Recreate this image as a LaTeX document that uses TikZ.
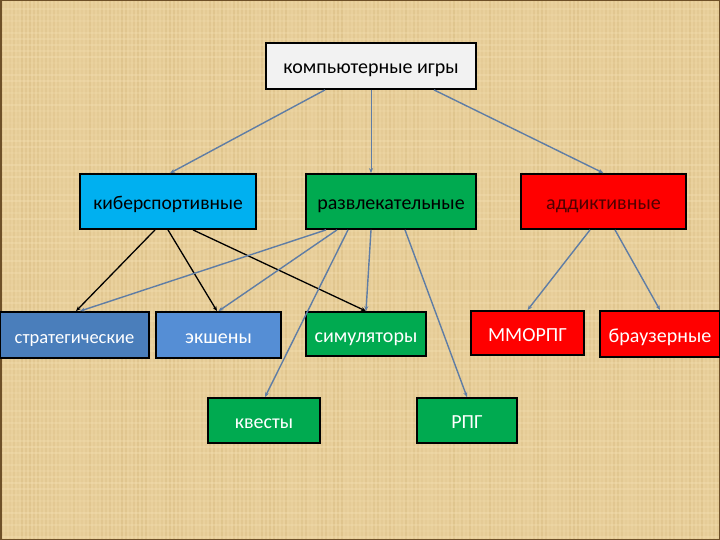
\documentclass[tikz,border=0pt]{standalone}
\usepackage{fontspec}
\setmainfont{Carlito}
\usetikzlibrary{arrows.meta}
\definecolor{parch}{RGB}{233,208,156}
\definecolor{parchdark}{RGB}{210,180,120}
\definecolor{parchlight}{RGB}{245,225,180}
\definecolor{frame}{RGB}{110,80,40}
\definecolor{linkblue}{RGB}{95,125,165}
\definecolor{cyanbox}{RGB}{0,176,240}
\definecolor{greenbox}{RGB}{0,170,80}
\definecolor{redbox}{RGB}{255,0,0}
\definecolor{stratbox}{RGB}{74,126,187}
\definecolor{actbox}{RGB}{85,142,213}
\definecolor{darkred}{RGB}{80,0,0}
\tikzset{font=\fontsize{20}{22}\selectfont}
\tikzset{box/.style={draw=black, line width=1.8pt, inner sep=0pt, anchor=center,
    text height=17pt, text depth=1pt}}
\tikzset{link/.style={draw=linkblue, line width=1.4pt, -{Stealth[length=5pt,width=4pt]}}}
\tikzset{blink/.style={draw=black, line width=1.3pt, -{Stealth[length=5pt,width=4pt]}}}

\begin{document}
\begin{tikzpicture}[x=1pt,y=-1pt]
  \useasboundingbox (0,0) rectangle (720,540);
  \fill[parch] (0,0) rectangle (720,540);
  % parchment texture
  \pgfmathsetseed{7}
  \foreach \i in {2,6,...,718}{
    \pgfmathsetmacro{\op}{0.1+0.3*rnd}
    \draw[parchdark, line width=1.2pt, opacity=\op] (\i,0) -- (\i,540);
  }
  \foreach \j in {3,9,...,537}{
    \pgfmathsetmacro{\op}{0.1+0.3*rnd}
    \draw[parchlight, line width=2pt, opacity=\op] (0,\j) -- (720,\j);
  }
  \draw[frame, line width=1.5pt] (0.75,0.75) rectangle (719.25,539.25);

  % top level
  \node[box, fill=white!95!black, minimum width=210pt, minimum height=46pt] (games) at (371,66) {компьютерные игры};

  % second level
  \node[box, font=\fontsize{19.5}{22}\selectfont, fill=cyanbox, minimum width=176pt, minimum height=55pt] (cyber) at (168,201.5) {киберспортивные};
  \node[box, fill=greenbox, minimum width=170pt, minimum height=55pt] (fun) at (391,201.5) {развлекательные};
  \node[box, fill=redbox, text=darkred, minimum width=165pt, minimum height=55pt] (addict) at (603.5,201.5) {аддиктивные};

  % third level
  \node[box, font=\fontsize{18.5}{22}\selectfont, fill=stratbox, text=white, minimum width=149pt, minimum height=46pt] (strat) at (74.5,335) {стратегические};
  \node[box, fill=actbox, text=white, minimum width=125pt, minimum height=46pt] (action) at (218.5,335) {экшены};
  \node[box, fill=greenbox, text=white, minimum width=120pt, minimum height=44pt] (sim) at (366,334) {симуляторы};
  \node[box, fill=redbox, text=white, minimum width=113pt, minimum height=44pt] (mmo) at (527.5,333) {ММОРПГ};
  \node[box, fill=redbox, text=white, minimum width=120pt, minimum height=46pt] (browser) at (660,334) {браузерные};
  \node[box, fill=greenbox, text=white, minimum width=112pt, minimum height=45pt] (quest) at (264,420.5) {квесты};
  \node[box, fill=greenbox, text=white, minimum width=100pt, minimum height=45pt] (rpg) at (467,420.5) {РПГ};

  % links from the top
  \draw[link] ([xshift=-46pt]games.south) -- ([xshift=2pt]cyber.north);
  \draw[link, line width=0.7pt] (games.south) -- ([xshift=-20pt]fun.north);
  \draw[link] ([xshift=63pt]games.south) -- (addict.north);

  % cyber sport
  \draw[blink] ([xshift=-13pt]cyber.south) -- ([xshift=1.5pt]strat.north);
  \draw[blink] (cyber.south) -- ([xshift=-1.5pt]action.north);
  \draw[blink] ([xshift=25pt]cyber.south) -- (sim.north);

  % entertainment
  \draw[link] ([xshift=-65pt]fun.south) -- ([xshift=5.5pt]strat.north);
  \draw[link] ([xshift=-54pt]fun.south) -- (action.north);
  \draw[link] ([xshift=-43pt]fun.south) -- ([xshift=1pt]quest.north);
  \draw[link] ([xshift=-20pt]fun.south) -- (sim.north);
  \draw[link] ([xshift=14pt]fun.south) -- (rpg.north);

  % addictive
  \draw[link] ([xshift=-13.5pt]addict.south) -- (mmo.north);
  \draw[link] ([xshift=11.5pt]addict.south) -- (browser.north);
\end{tikzpicture}
\end{document}
